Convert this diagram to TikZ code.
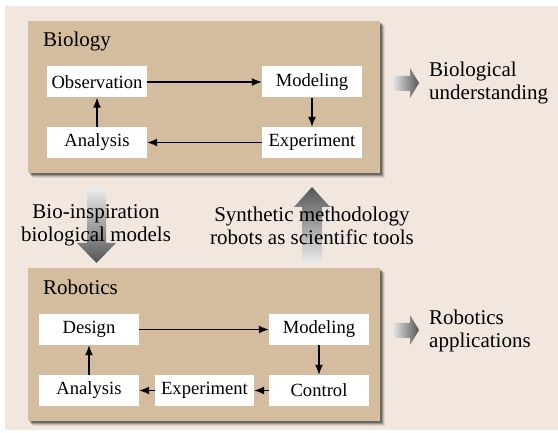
\documentclass[tikz,border=0pt]{standalone}
\usepackage{fontspec}
\setmainfont{Liberation Serif}
\usetikzlibrary{arrows.meta}
\definecolor{bgbeige}{RGB}{241,231,222}
\definecolor{boxtan}{RGB}{212,188,158}
\definecolor{arrlight}{RGB}{236,236,236}
\definecolor{arrdark}{RGB}{85,85,85}
\tikzset{
  stepbox/.style={draw=none,fill=white,minimum width=100pt,minimum height=31pt,inner sep=0pt,font=\fontsize{18.6}{22}\selectfont},
  bigbox/.style={fill=boxtan,draw=none,inner sep=0pt},
  flow/.style={-{Latex[length=10pt,width=8pt]},line width=1.4pt,black},
  title/.style={font=\fontsize{21}{23}\selectfont,inner sep=0pt},
  lbl/.style={font=\fontsize{21}{23}\selectfont,inner sep=0pt,align=left},
  lblc/.style={font=\fontsize{21}{23}\selectfont,inner sep=0pt,align=center}
}
\begin{document}
\begin{tikzpicture}[x=1pt,y=-1pt]
\useasboundingbox (0,0) rectangle (558,433);
\fill[white] (0,0) rectangle (558,433);
\fill[bgbeige] (5,6) rectangle (558,430);
% shadows
\foreach \o/\op in {5/0.08,4/0.12,3/0.2,2/0.3}{
  \fill[black,opacity=\op] (28+\o,21+\o) rectangle (380+\o,173+\o);
  \fill[black,opacity=\op] (28+\o,268+\o) rectangle (380+\o,421+\o);
}
% big boxes
\node[bigbox,minimum width=352pt,minimum height=152pt] (bio) at (204,97) {};
\node[bigbox,minimum width=352pt,minimum height=153pt] (rob) at (204,344.5) {};
\node[title,anchor=base west] (biot) at (43,47) {Biology};
\node[title,anchor=base west] (robt) at (43,295) {Robotics};
% biology steps
\node[stepbox] (obs) at (97,82) {Observation};
\node[stepbox] (bmod) at (312,82) {Modeling};
\node[stepbox] (bexp) at (312,142.5) {Experiment};
\node[stepbox] (bana) at (97,142.5) {Analysis};
\draw[flow] (obs) -- (bmod);
\draw[flow] (bmod) -- (bexp);
\draw[flow] (bexp) -- (bana);
\draw[flow] (bana) -- (obs);
% robotics steps
\node[stepbox] (des) at (89,329.5) {Design};
\node[stepbox] (rmod) at (319,329.5) {Modeling};
\node[stepbox] (ctl) at (319,390.5) {Control};
\node[stepbox,minimum width=99pt] (rexp) at (204.5,390.5) {Experiment};
\node[stepbox] (rana) at (89,390.5) {Analysis};
\draw[flow] (des) -- (rmod);
\draw[flow] (rmod) -- (ctl);
\draw[flow] (ctl) -- (rexp);
\draw[flow] (rexp) -- (rana);
\draw[flow] (rana) -- (des);
% gradient arrows right
\path[left color=arrlight,right color=arrdark]
  (392,76) -- (410,76) -- (410,68) -- (419,83) -- (410,98) -- (410,91) -- (392,91) -- cycle;
\path[left color=arrlight,right color=arrdark]
  (392,323) -- (410,323) -- (410,315) -- (419,330) -- (410,345) -- (410,338) -- (392,338) -- cycle;
% down arrow
\path[top color=arrlight,bottom color=arrdark]
  (87,188) -- (106,188) -- (106,243) -- (116,243) -- (96.5,263) -- (77,243) -- (87,243) -- cycle;
% up arrow
\path[top color=arrdark,bottom color=arrlight]
  (312,187) -- (330,207) -- (322,207) -- (322,263) -- (302,263) -- (302,207) -- (294,207) -- cycle;
% side labels
\node[lbl,anchor=west] (bund) at (429,82.6) {Biological\\understanding};
\node[lbl,anchor=west] (rapp) at (429,330.6) {Robotics\\applications};
\node[lblc] (bioin) at (96,225.5) {Bio-inspiration\\biological models};
\node[lblc] (synth) at (312,225.5) {Synthetic methodology\\robots as scientific tools};
\end{tikzpicture}
\end{document}
